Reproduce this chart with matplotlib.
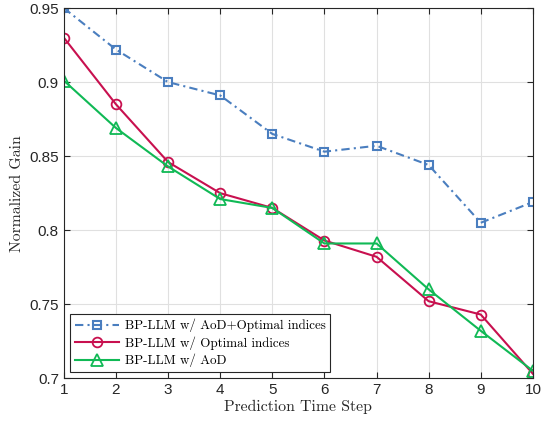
import numpy as np
import matplotlib.pyplot as plt

steps = np.arange(1, 11)
aod_opt = [0.950, 0.922, 0.900, 0.891, 0.865, 0.853, 0.857, 0.844, 0.805, 0.819]
opt_idx = [0.930, 0.885, 0.846, 0.825, 0.815, 0.793, 0.782, 0.752, 0.743, 0.703]
aod = [0.901, 0.869, 0.843, 0.821, 0.815, 0.791, 0.791, 0.760, 0.732, 0.705]

serif = 'cmr10'

fig = plt.figure(figsize=(5.41, 4.24), dpi=100)
ax = fig.add_axes([0.118, 0.108, 0.867, 0.873])

ax.plot(steps, aod_opt, linestyle=(0, (4, 2, 1, 2)), color='#4a7ebf', marker='s', markersize=6,
        markerfacecolor='none', markeredgewidth=1.5, linewidth=1.5,
        label='BP-LLM w/ AoD+Optimal indices')
ax.plot(steps, opt_idx, linestyle='-', color='#c8104f', marker='o', markersize=7,
        markerfacecolor='none', markeredgewidth=1.3, linewidth=1.5,
        label='BP-LLM w/ Optimal indices')
ax.plot(steps, aod, linestyle='-', color='#10b955', marker='^', markersize=8,
        markerfacecolor='none', markeredgewidth=1.3, linewidth=1.5,
        label='BP-LLM w/ AoD')

ax.set_xlim(1, 10)
ax.set_ylim(0.7, 0.95)
ax.set_xticks(steps)
ax.set_yticks([0.7, 0.75, 0.8, 0.85, 0.9, 0.95])
ax.set_yticklabels(['0.7', '0.75', '0.8', '0.85', '0.9', '0.95'])
ax.tick_params(direction='in', top=True, right=True, labelsize=11, colors='#262626', length=4)
for lab in ax.get_xticklabels() + ax.get_yticklabels():
    lab.set_fontfamily('Liberation Sans')
for s in ax.spines.values():
    s.set_color('#262626')
    s.set_linewidth(0.8)
ax.grid(True, color='#e0e0e0', linewidth=0.8)
ax.set_axisbelow(True)

ax.set_xlabel('Prediction Time Step', fontfamily=serif, fontsize=11.3, color='#262626', labelpad=2)
ax.set_ylabel('Normalized Gain', fontfamily=serif, fontsize=11.3, color='#262626', labelpad=4)

leg = ax.legend(loc='lower left', prop={'family': serif, 'size': 9.4}, fancybox=False,
                edgecolor='#262626', framealpha=1, borderaxespad=0.5, handlelength=3.4,
                borderpad=0.35, labelspacing=0.3, handletextpad=0.4)
leg.get_frame().set_linewidth(0.8)

plt.savefig('out.png', dpi=100)
